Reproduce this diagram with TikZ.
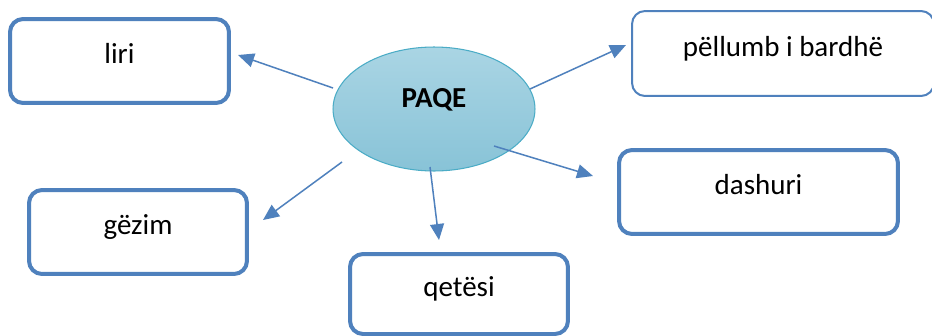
\documentclass[tikz,border=0pt]{standalone}
\usepackage{fontspec}
\setmainfont{Carlito}
\usepackage{xcolor}
\usepackage{tikz}
\usetikzlibrary{calc, shapes.geometric, arrows.meta}

\definecolor{boxblue}{HTML}{4F81BD}
\definecolor{elltop}{HTML}{AAD5E4}
\definecolor{ellbot}{HTML}{88C3D7}
\definecolor{ellline}{HTML}{4BACC6}

\begin{document}
\begin{tikzpicture}[x=0.02cm, y=-0.02cm,
    font=\fontsize{16.5}{19}\selectfont,
    fjale/.style={draw=boxblue, line width=0.08cm, rounded corners=0.26cm,
        minimum height=1.68cm, text height=0.4cm, text depth=0.3cm},
    shigjete/.style={boxblue, line width=0.03cm,
        -{Triangle[length=0.32cm, width=0.28cm]}}]
    % 0. Sfondi
    \fill[white] (0,0) rectangle (932,335);
    \useasboundingbox (0,0) rectangle (932,335);

    % 1. Elipsi në qendër
    \node[ellipse, draw=ellline, line width=0.6pt, top color=elltop, bottom color=ellbot,
        minimum width=4.04cm, minimum height=2.48cm, inner sep=0pt,
        text height=0.3cm, text depth=0.38cm, font=\fontsize{16.5}{19}\selectfont\bfseries]
        (paqe) at (434,109) {PAQE};

    % 2. Kutitë
    \node[fjale, minimum width=4.38cm] (liri) at (119.5,61) {liri};
    \node[fjale, line width=0.04cm, minimum width=6.04cm, minimum height=1.7cm]
        (pellumb) at (783,53.5) {pëllumb i bardhë};
    \node[fjale, minimum width=4.36cm] (gezim) at (138,232) {gëzim};
    \node[fjale, minimum width=4.36cm, minimum height=1.6cm] (qetesi) at (459,294) {qetësi};
    \node[fjale, minimum width=5.58cm] (dashuri) at (758.5,192) {dashuri};

    % 3. Majat e shigjetave
    \coordinate (mLiri) at (238,55);
    \coordinate (mPellumb) at (626,45);
    \coordinate (mGezim) at (263,220);
    \coordinate (mQetesi) at (439,240);
    \coordinate (mDashuri) at (593,176);

    % 4. Shigjetat
    \draw[shigjete] ($(paqe)+(-101,-21)$) -- (mLiri);
    \draw[shigjete] ($(paqe)+(96,-20)$) -- (mPellumb);
    \draw[shigjete] ($(paqe)+(-92,53)$) -- (mGezim);
    \draw[shigjete] ($(paqe)+(-4,58)$) -- (mQetesi);
    \draw[shigjete] ($(paqe)+(60,37)$) -- (mDashuri);
\end{tikzpicture}
\end{document}
